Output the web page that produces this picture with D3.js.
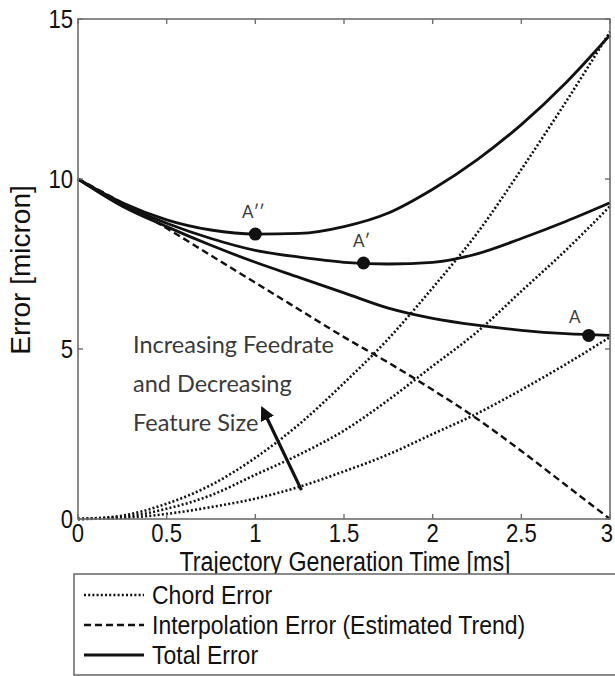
<!DOCTYPE html>
<html>
<head>
<meta charset="utf-8">
<script src="https://cdn.jsdelivr.net/npm/d3@7"></script>
<style>
  body { margin: 0; background: #fff; }
  .tick-label, .axis-title, .legend-text {
    font-family: "Liberation Sans", Arial, sans-serif;
    fill: #111;
  }
  .note { font-family: Lato, "Open Sans", sans-serif; fill: #3a3a3a; }
</style>
</head>
<body>
<div id="chart"></div>
<script>

// trajectory generation time [ms]
const times = [0, 0.25, 0.5, 0.75, 1, 1.25, 1.5, 1.75, 2, 2.25, 2.5, 2.75, 3];

// chord error, one curve per feedrate / feature size (dotted)
const chordLow  = [0, 0.03, 0.15, 0.35, 0.6, 0.95, 1.4, 1.9, 2.5, 3.1, 3.8, 4.55, 5.35];
const chordMid  = [0, 0.06, 0.3, 0.7, 1.3, 1.9, 2.6, 3.5, 4.5, 5.5, 6.7, 7.9, 9.2];
const chordHigh = [0, 0.1, 0.45, 1.0, 1.8, 2.8, 4.0, 5.3, 6.8, 8.4, 10.3, 12.4, 14.6];

// interpolation error, estimated trend (dashed)
const interpError = [10, 9.3, 8.55, 7.75, 6.95, 6.15, 5.35, 4.6, 3.8, 2.95, 2.0, 1.0, 0];

// total error (solid)
const totalLow  = [10, 9.2, 8.6, 8.05, 7.55, 7.1, 6.65, 6.2, 5.9, 5.7, 5.55, 5.45, 5.4];
const totalMid  = [10, 9.25, 8.7, 8.25, 7.9, 7.7, 7.55, 7.5, 7.55, 7.8, 8.25, 8.75, 9.3];
const totalHigh = [10, 9.3, 8.8, 8.5, 8.38, 8.4, 8.6, 9.0, 9.7, 10.6, 11.7, 13.0, 14.5];

// minimum total error points
const optimumLabels = ["A", "A\u2032", "A\u2032\u2032"];
const optimumTimes  = [2.88, 1.61, 1.0];
const optimumErrors = [5.4, 7.53, 8.38];

const xTicks = [0, 0.5, 1, 1.5, 2, 2.5, 3];
const yTicks = [0, 5, 10, 15];

const noteLines = ["Increasing Feedrate", "and Decreasing", "Feature Size"];
const legendLabels = ["Chord Error", "Interpolation Error (Estimated Trend)", "Total Error"];


class ErrorChart {

    constructor(_parentElement) {
        this.parentElement = _parentElement;
        this.initVis();
    }

    initVis() {
        let vis = this;

        vis.width = 615;
        vis.height = 676;
        vis.plot = { left: 78, right: 610, top: 19, bottom: 519 };

        vis.svg = d3.select("#" + vis.parentElement).append("svg")
            .attr("width", vis.width)
            .attr("height", vis.height);

        vis.x = d3.scaleLinear()
            .domain([0, 3])
            .range([vis.plot.left, vis.plot.right]);

        // scanned figure is slightly squashed at the top
        vis.y = d3.scaleLinear()
            .domain([0, 5, 10, 15])
            .range([vis.plot.bottom, 349, 179, vis.plot.top]);

        vis.svg.append("defs").append("marker")
            .attr("id", "arrowhead")
            .attr("viewBox", "0 0 10 10")
            .attr("refX", 8)
            .attr("refY", 5)
            .attr("markerWidth", 4.5)
            .attr("markerHeight", 4.5)
            .attr("orient", "auto")
            .append("path")
            .attr("d", "M0,0 L10,5 L0,10 z")
            .attr("fill", "#111");

        vis.updateVis();
    }

    // narrow looking text: squeeze horizontally
    narrowText(parent, x, y, sx, size, cls, anchor, str) {
        return parent.append("text")
            .attr("class", cls)
            .attr("transform", "translate(" + x + "," + y + ") scale(" + sx + ",1)")
            .attr("text-anchor", anchor)
            .attr("font-size", size)
            .text(str);
    }

    updateVis() {
        let vis = this;

        let line = d3.line()
            .x((d, i) => vis.x(times[i]))
            .y(d => vis.y(d))
            .curve(d3.curveMonotoneX);

        // chord error curves
        [chordLow, chordMid, chordHigh].forEach(s => {
            vis.svg.append("path")
                .attr("d", line(s))
                .attr("fill", "none")
                .attr("stroke", "#111")
                .attr("stroke-width", 2.6)
                .attr("stroke-dasharray", "2,2.2");
        });

        // interpolation error
        vis.svg.append("path")
            .attr("d", line(interpError))
            .attr("fill", "none")
            .attr("stroke", "#111")
            .attr("stroke-width", 2.4)
            .attr("stroke-dasharray", "7,4");

        // total error curves
        [totalLow, totalMid, totalHigh].forEach(s => {
            vis.svg.append("path")
                .attr("d", line(s))
                .attr("fill", "none")
                .attr("stroke", "#111")
                .attr("stroke-width", 2.8);
        });

        // optimum markers
        vis.svg.selectAll(".optimum")
            .data(optimumTimes)
            .enter().append("circle")
            .attr("class", "optimum")
            .attr("cx", d => vis.x(d))
            .attr("cy", (d, i) => vis.y(optimumErrors[i]))
            .attr("r", 6.5)
            .attr("fill", "#111");

        vis.svg.selectAll(".optimum-label")
            .data(optimumLabels)
            .enter().append("text")
            .attr("class", "note")
            .attr("x", (d, i) => vis.x(optimumTimes[i]) - (i == 0 ? 14 : 2))
            .attr("y", (d, i) => vis.y(optimumErrors[i]) - (i == 0 ? 12 : 16))
            .attr("text-anchor", "middle")
            .attr("font-size", 17)
            .text(d => d);

        // frame
        vis.svg.append("rect")
            .attr("x", vis.plot.left)
            .attr("y", vis.plot.top)
            .attr("width", vis.plot.right - vis.plot.left)
            .attr("height", vis.plot.bottom - vis.plot.top)
            .attr("fill", "none")
            .attr("stroke", "#6e6e6e")
            .attr("stroke-width", 1.6);

        // inward ticks on all four sides
        let tickLen = 5;
        xTicks.forEach(t => {
            vis.svg.append("line")
                .attr("x1", vis.x(t)).attr("x2", vis.x(t))
                .attr("y1", vis.plot.bottom).attr("y2", vis.plot.bottom - tickLen)
                .attr("stroke", "#6e6e6e").attr("stroke-width", 1.4);
            vis.svg.append("line")
                .attr("x1", vis.x(t)).attr("x2", vis.x(t))
                .attr("y1", vis.plot.top).attr("y2", vis.plot.top + tickLen)
                .attr("stroke", "#6e6e6e").attr("stroke-width", 1.4);
        });
        yTicks.forEach(t => {
            vis.svg.append("line")
                .attr("x1", vis.plot.left).attr("x2", vis.plot.left + tickLen)
                .attr("y1", vis.y(t)).attr("y2", vis.y(t))
                .attr("stroke", "#6e6e6e").attr("stroke-width", 1.4);
            vis.svg.append("line")
                .attr("x1", vis.plot.right).attr("x2", vis.plot.right - tickLen)
                .attr("y1", vis.y(t)).attr("y2", vis.y(t))
                .attr("stroke", "#6e6e6e").attr("stroke-width", 1.4);
        });

        xTicks.forEach((t, i) => {
            let xx = vis.x(t) + (i == xTicks.length - 1 ? -3 : 0);
            vis.narrowText(vis.svg, xx, vis.plot.bottom + 23, 0.85, 26, "tick-label", "middle", t);
        });

        yTicks.forEach(t => {
            vis.narrowText(vis.svg, vis.plot.left - 5, vis.y(t) + 9, 0.85, 26, "tick-label", "end", t);
        });

        vis.narrowText(vis.svg, 345, 571, 0.83, 28,
            "axis-title", "middle", "Trajectory Generation Time [ms]");

        vis.svg.append("text")
            .attr("class", "axis-title")
            .attr("transform", "translate(30,270) rotate(-90)")
            .attr("text-anchor", "middle")
            .attr("font-size", 28)
            .text("Error [micron]");

        // annotation
        vis.svg.selectAll(".note-line")
            .data(noteLines)
            .enter().append("text")
            .attr("class", "note")
            .attr("x", 133)
            .attr("y", (d, i) => 353 + i * 39)
            .attr("font-size", 23.5)
            .text(d => d);

        vis.svg.append("line")
            .attr("x1", vis.x(1.26)).attr("y1", vis.y(0.85))
            .attr("x2", vis.x(1.04)).attr("y2", vis.y(3.25))
            .attr("stroke", "#111")
            .attr("stroke-width", 3.2)
            .attr("marker-end", "url(#arrowhead)");

        // legend
        let legend = vis.svg.append("g").attr("transform", "translate(74,574)");
        legend.append("rect")
            .attr("width", 545)
            .attr("height", 101)
            .attr("fill", "#fff")
            .attr("stroke", "#6e6e6e")
            .attr("stroke-width", 1.6);

        let dashes = ["2,2.2", "7,4", null];
        let widths = [2.6, 2.4, 2.8];
        legendLabels.forEach((label, i) => {
            let yy = 21 + i * 30;
            legend.append("line")
                .attr("x1", 10).attr("x2", 70)
                .attr("y1", yy).attr("y2", yy)
                .attr("stroke", "#111")
                .attr("stroke-width", widths[i])
                .attr("stroke-dasharray", dashes[i]);
            vis.narrowText(legend, 78, yy + 9, 0.92, 25, "legend-text", "start", label);
        });
    }
}

new ErrorChart("chart");

</script>
</body>
</html>
